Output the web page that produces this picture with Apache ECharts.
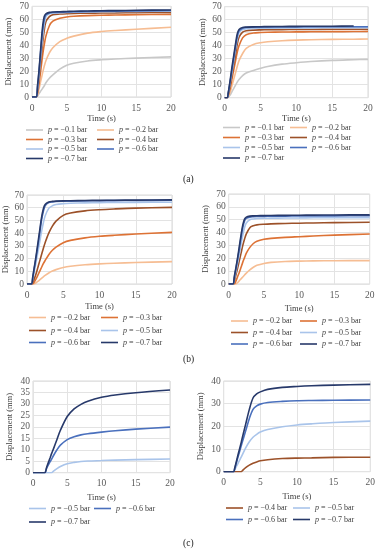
<!DOCTYPE html>
<html><head><meta charset="utf-8">
<script src="https://cdn.jsdelivr.net/npm/echarts@6/dist/echarts.min.js"></script>
<style>html,body{margin:0;padding:0;background:#fff}#c{width:378px;height:550px}</style>
</head><body><div id="c"></div>
<script>
// ---------- data ----------
const names = ['p = −0.1 bar','p = −0.2 bar','p = −0.3 bar','p = −0.4 bar','p = −0.5 bar','p = −0.6 bar','p = −0.7 bar'];
const xTicks = [0,5,10,15,20];

// (a) left
const tA1 = [0,0.6,0.8,1,1.25,1.5,1.75,2,2.5,3,4,5,6,8,10,12,15,20];
const a1p1 = [0,0,0.8,2.5,4.5,6.5,8.5,11,14.5,17,21.5,24.5,26,27.8,28.7,29.3,30,31];
const a1p2 = [0,0,1.5,6,12,18,23.5,28,34,38,42.8,45.3,47,49.3,50.5,51.3,52.3,53.8];
const a1p3 = [0,0,3,10,20,31,40,47,55,58.5,60.8,61.8,62.3,62.8,63.1,63.3,63.5,63.8];
const a1p4 = [0,0,5,14,27,40,51,58,62,63.5,64,64.3,64.5,64.7,64.8,64.9,65.1,65.3];
const a1p5 = [0,0,6,16,31,45,56,62,64.3,64.8,65,65.2,65.4,65.6,65.8,65.9,66.1,66.3];
const a1p6 = [0,0,8,19,35,50,59.5,63.5,64.8,65.2,65.4,65.6,65.8,66,66.2,66.3,66.5,66.8];
const a1p7 = [0,0,9,20,37,53,62,64.2,65.3,65.6,65.8,66,66.2,66.4,66.6,66.7,66.9,67.2];

// (a) right
const tA2 = [0,0.35,0.5,0.75,1,1.25,1.5,1.75,2,2.5,3,4,5,6,8,10,12,15,18,20];
const a2p1 = [0,0,0.5,2,4.5,7,9.5,12,14,17,19,21,22.6,24,25.8,26.9,27.8,28.7,29.2,29.5];
const a2p2 = [0,0,1,4,9,14,19,24,28.5,34,38,41,42.3,43,43.8,44.3,44.6,44.9,45,45.1];
const a2p3 = [0,0,2,7,14,21,28,35,40,46,48.5,49.8,50.1,50.3,50.5,50.6,50.7,50.8,50.9,51];
const a2p4 = [0,0,2.5,9,17,25,33,41,46.5,50.5,51.5,52,52.2,52.3,52.4,52.5,52.5,52.6,52.6,52.6];
const a2p5 = [0,0,3,11,19,28,37,45,50,52.5,53,53.3,53.4,53.5,53.6,53.7,53.7,53.8,53.8,53.8];
const a2p6 = [0,0,3.5,12,21,30,39,47,51.5,53.5,54,54.2,54.3,54.4,54.5,54.5,54.6,54.6,54.6,54.6];
const a2p7 = [0,0,4,13,23,32,41,49,52.5,54,54.3,54.5,54.6,54.7,54.8,54.9,55,55,55.1,null];

// (b) left
const tB1 = [0,0.6,0.8,1,1.25,1.5,1.75,2,2.25,2.5,3,3.5,4,5,6,8,10,12,15,20];
const b1p2 = [0,0,0,0,1,2,3.2,4.5,5.7,6.8,8.7,10.2,11.3,13,14,15.1,15.8,16.3,16.9,17.6];
const b1p3 = [0,0,0,1.5,4,7,10,13,16,18.5,23,26.5,29,32.5,34.3,36.3,37.5,38.3,39.3,40.6];
const b1p4 = [0,0,1.5,4,8,13,18,23,28,32.5,40,45.5,49.5,54,55.8,57.5,58.4,59,59.7,60.3];
const b1p5 = [0,0,4,10,17,25,33,41,48,53.5,59.5,61.5,62.5,63.2,63.5,63.8,64,64.1,64.2,64.3];
const b1p6 = [0,0,5,12,21,30,40,50,57,61.5,64,64.6,64.9,65.1,65.2,65.4,65.5,65.6,65.7,65.9];
const b1p7 = [0,0,6,13,22,32,42,52,59,62.5,64.5,65,65.2,65.4,65.5,65.7,65.8,65.9,66,66.2];

// (b) right
const tB2 = [0,0.6,0.8,1,1.25,1.5,1.75,2,2.25,2.5,3,3.5,4,5,6,8,10,12,15,20];
const b2p2 = [0,0,0,0,1,2.5,4,5.5,7,8.5,11,13,14.5,16,16.8,17.5,17.8,18,18.1,18.2];
const b2p3 = [0,0,0,2,5.5,9,13,17,20.5,24,28.5,31.5,33.3,34.8,35.5,36.3,36.8,37.3,38,38.9];
const b2p4 = [0,0,2.5,6.5,12,18,24,30,35,39,43.8,45.3,46,46.5,46.8,47.1,47.3,47.5,47.7,48];
const b2p5 = [0,0,4,9,16,23,31,38,44,47.5,50,50.6,50.9,51.1,51.2,51.3,51.4,51.5,51.5,51.6];
const b2p6 = [0,0,5,11,19,27,36,44,49,51,52,52.3,52.5,52.6,52.7,52.8,52.9,53,53,53.1];
const b2p7 = [0,0,6,12,20,29,38,46,50.5,52,52.8,53,53.1,53.2,53.3,53.4,53.5,53.6,53.7,53.8];

// (c) left
const tC1 = [0,1.7,2,2.5,2.7,3,3.5,4,5,6,7,8,10,12,15,20];
const c1p5 = [0,0,0,0,0,0.7,1.8,2.7,3.9,4.5,4.9,5.1,5.3,5.5,5.7,6];
const c1p6 = [0,0,2,4.8,5.8,7.5,10,12,14.4,15.7,16.5,17,17.7,18.3,19,19.9];
const c1p7 = [0,0,2.5,6.5,8.2,10.5,14.5,18.5,24.5,27.8,29.8,31.2,32.9,33.9,34.9,36.1];

// (c) right
const tC2 = [0,1.35,1.5,2,2.4,2.5,3,3.5,4,4.5,5,6,8,10,12,15,20];
const c2p4 = [0,0,0,0,0,0.3,1.8,2.9,3.7,4.3,4.8,5.3,5.8,6,6.1,6.3,6.4];
const c2p5 = [0,0,0.8,4,6.5,7.2,10.5,13.2,15.2,16.5,17.5,18.6,19.8,20.6,21.1,21.7,22.3];
const c2p6 = [0,0,1.3,7,11.5,12.7,18,23.5,27.5,29,29.8,30.5,31,31.3,31.4,31.5,31.6];
const c2p7 = [0,0,1.5,8,13,14.5,21,27.5,32.5,34.3,35.2,36.3,37.2,37.6,37.9,38.2,38.5];

// ---------- styling ----------
const FONT = '"Liberation Serif", "DejaVu Serif", serif';
const colors = {
  'p = −0.1 bar':'#c8c8c8','p = −0.2 bar':'#f6bd93','p = −0.3 bar':'#dd7235',
  'p = −0.4 bar':'#9c5129','p = −0.5 bar':'#a9c4ea','p = −0.6 bar':'#4a70bd','p = −0.7 bar':'#27396a'
};

const panels = [
  {t:tA1, s:[[0,a1p1],[1,a1p2],[2,a1p3],[3,a1p4],[4,a1p5],[5,a1p6],[6,a1p7]], ymax:70, yint:10,
   grid:{left:32,top:6.3,width:139,height:90.7}, yGap:19, xGap:16},
  {t:tA2, s:[[0,a2p1],[1,a2p2],[2,a2p3],[3,a2p4],[4,a2p5],[5,a2p6],[6,a2p7]], ymax:70, yint:10,
   grid:{left:224.7,top:6.7,width:143.3,height:91}, yGap:17, xGap:15},
  {t:tB1, s:[[1,b1p2],[2,b1p3],[3,b1p4],[4,b1p5],[5,b1p6],[6,b1p7]], ymax:70, yint:10,
   grid:{left:27,top:195,width:145,height:89}, yGap:16, xGap:18},
  {t:tB2, s:[[1,b2p2],[2,b2p3],[3,b2p4],[4,b2p5],[5,b2p6],[6,b2p7]], ymax:70, yint:10,
   grid:{left:228.7,top:194,width:141,height:90}, yGap:18, xGap:20},
  {t:tC1, s:[[4,c1p5],[5,c1p6],[6,c1p7]], ymax:40, yint:5,
   grid:{left:33,top:381,width:137,height:91.7}, yGap:18.5, xGap:21},
  {t:tC2, s:[[3,c2p4],[4,c2p5],[5,c2p6],[6,c2p7]], ymax:40, yint:10,
   grid:{left:223.7,top:381,width:147,height:90.7}, yGap:18, xGap:21},
];

// legend placement: [panel rows] -> {x text starts, row y centres, items}
const legendLayout = [
  {xs:[48,119], ys:[130,139.5,149,158.5], items:[[0,1],[2,3],[4,5],[6]]},
  {xs:[245,312], ys:[127.5,137.5,147.5,158], items:[[0,1],[2,3],[4,5],[6]]},
  {xs:[51,123], ys:[317.5,330.5,342.5], items:[[1,2],[3,4],[5,6]]},
  {xs:[253,322], ys:[321,332.5,344], items:[[1,2],[3,4],[5,6]]},
  {xs:[51,116], ys:[508.5,522], items:[[4,5],[6]]},
  {xs:[248,315], ys:[508,519.5], items:[[3,4],[5,6]]},
];

const grids=[], xAxes=[], yAxes=[], series=[], legends=[];
panels.forEach((p,i)=>{
  grids.push(Object.assign({show:true,borderColor:'#d9d9d9',borderWidth:1,backgroundColor:'transparent'},p.grid));
  xAxes.push({gridIndex:i,type:'value',min:0,max:20,interval:5,
    name:'Time (s)',nameLocation:'middle',nameGap:p.xGap,
    nameTextStyle:{fontFamily:FONT,fontSize:8.5,color:'#404040'},
    axisLine:{show:false},axisTick:{show:false},
    axisLabel:{fontFamily:FONT,fontSize:9.5,color:'#595959',margin:6},
    splitLine:{show:true,lineStyle:{color:'#e3e3e3',width:1}}});
  yAxes.push({gridIndex:i,type:'value',min:0,max:p.ymax,interval:p.yint,
    name:'Displacement (mm)',nameLocation:'middle',nameGap:p.yGap,nameRotate:90,
    nameTextStyle:{fontFamily:FONT,fontSize:8.5,color:'#404040'},
    axisLine:{show:false},axisTick:{show:false},
    axisLabel:{fontFamily:FONT,fontSize:9.5,color:'#595959',margin:3},
    splitLine:{show:true,lineStyle:{color:'#e3e3e3',width:1}}});
  p.s.forEach(([k,vals])=>{
    const nm = names[k];
    series.push({type:'line',name:nm,xAxisIndex:i,yAxisIndex:i,
      data:p.t.map((t,j)=>[t,vals[j]]).filter(d=>d[1]!==null),
      showSymbol:false,smooth:0.3,color:colors[nm],
      lineStyle:{width:1.6,color:colors[nm]},silent:true,animation:false});
  });
  const L = legendLayout[i];
  L.items.forEach((row,r)=>{
    row.forEach((k,c)=>{
      legends.push({data:[names[k]],left:L.xs[c]-22,top:L.ys[r]-5,padding:0,
        icon:'rect',itemWidth:17,itemHeight:1.6,selectedMode:false,
        formatter:n=>'{i|p}'+n.slice(1),
        textStyle:{fontFamily:FONT,fontSize:8,color:'#404040',lineHeight:10,
          rich:{i:{fontFamily:FONT,fontSize:8,fontStyle:'italic',color:'#404040',lineHeight:10}}}});
    });
  });
});

const chart = echarts.init(document.getElementById('c'),null,{renderer:'canvas'});
chart.setOption({
  animation:false,
  grid:grids,xAxis:xAxes,yAxis:yAxes,series:series,legend:legends,
  graphic:[
    {type:'text',left:183,top:174,style:{text:'(a)',font:'9.5px '+FONT,fill:'#222'}},
    {type:'text',left:183,top:354,style:{text:'(b)',font:'9.5px '+FONT,fill:'#222'}},
    {type:'text',left:183,top:538,style:{text:'(c)',font:'9.5px '+FONT,fill:'#222'}}
  ]
});
</script></body></html>
